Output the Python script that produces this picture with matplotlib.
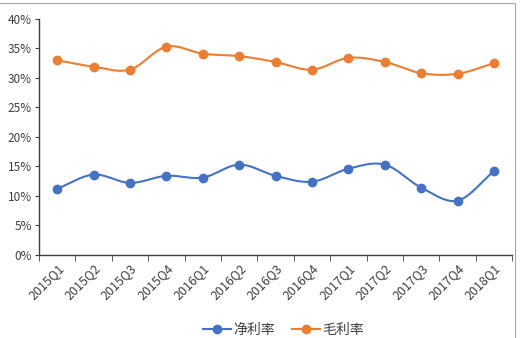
import numpy as np
import matplotlib
matplotlib.use("Agg")
import matplotlib.pyplot as plt
from matplotlib.lines import Line2D
from matplotlib.patches import Rectangle

plt.rcParams['font.family'] = ['Noto Sans CJK SC', 'DejaVu Sans']

categories = ['2015Q1', '2015Q2', '2015Q3', '2015Q4', '2016Q1', '2016Q2', '2016Q3',
              '2016Q4', '2017Q1', '2017Q2', '2017Q3', '2017Q4', '2018Q1']
net_margin = [11.2, 13.6, 12.2, 13.4, 13.1, 15.3, 13.4, 12.4, 14.6, 15.3, 11.4, 9.2, 14.2]
gross_margin = [33.0, 31.9, 31.4, 35.3, 34.1, 33.7, 32.7, 31.4, 33.4, 32.7, 30.8, 30.7, 32.5]
series_names = ['净利率', '毛利率']
colors = ['#4472C4', '#ED7D31']


def smooth(x, y, n=20):
    x = np.asarray(x, float)
    y = np.asarray(y, float)
    px = np.concatenate([[2 * x[0] - x[1]], x, [2 * x[-1] - x[-2]]])
    py = np.concatenate([[2 * y[0] - y[1]], y, [2 * y[-1] - y[-2]]])
    xs, ys = [], []
    t = np.linspace(0, 1, n, endpoint=False)
    for i in range(1, len(px) - 2):
        p0, p1, p2, p3 = py[i - 1], py[i], py[i + 1], py[i + 2]
        q0, q1, q2, q3 = px[i - 1], px[i], px[i + 1], px[i + 2]
        f = lambda a0, a1, a2, a3: 0.5 * ((2 * a1) + (-a0 + a2) * t +
                                          (2 * a0 - 5 * a1 + 4 * a2 - a3) * t ** 2 +
                                          (-a0 + 3 * a1 - 3 * a2 + a3) * t ** 3)
        xs.append(f(q0, q1, q2, q3))
        ys.append(f(p0, p1, p2, p3))
    xs.append([x[-1]])
    ys.append([y[-1]])
    return np.concatenate(xs), np.concatenate(ys)


fig = plt.figure(figsize=(5.2, 3.38), dpi=100)
fig.patches.append(Rectangle((-0.01, -0.01), 1.0, 1.0, transform=fig.transFigure,
                             fill=False, edgecolor='#A6A6A6', linewidth=0.8))
ax = fig.add_axes([0.075, 0.246, 0.91, 0.698])

x = np.arange(len(categories))
for vals, c in zip([net_margin, gross_margin], colors):
    sx, sy = smooth(x, vals)
    ax.plot(sx, sy, color=c, linewidth=1.5, zorder=2)
    ax.plot(x, vals, linestyle='none', marker='o', markersize=6, color=c, zorder=3)

ax.set_xlim(-0.5, len(categories) - 0.5)
ax.set_ylim(0, 40)
ax.set_yticks(np.arange(0, 41, 5))
ax.set_yticklabels([f'{v}%' for v in range(0, 41, 5)], fontsize=8.5, color='#404040')
ax.set_xticks(x)
ax.set_xticklabels(categories, rotation=45, ha='right', rotation_mode='anchor',
                   fontsize=9, color='#404040')
ax.set_xticks(np.arange(-0.5, len(categories), 1), minor=True)
ax.tick_params(axis='x', which='major', length=0, pad=5)
ax.tick_params(axis='x', which='minor', length=4, direction='out', color='#404040')
ax.tick_params(axis='y', length=3, direction='out', color='#404040', pad=2)
for s in ['top', 'right']:
    ax.spines[s].set_visible(False)
for s in ['left', 'bottom']:
    ax.spines[s].set_color('#404040')
    ax.spines[s].set_linewidth(1.0)

handles = [Line2D([0], [0], color=c, marker='o', markersize=6, linewidth=1.5) for c in colors]
fig.legend(handles, series_names, loc='center', bbox_to_anchor=(0.545, 0.025), ncol=2,
           frameon=False, fontsize=10, handlelength=2.0, columnspacing=1.2, handletextpad=0.2,
           labelcolor='#404040')

fig.savefig('out.png', dpi=100)
